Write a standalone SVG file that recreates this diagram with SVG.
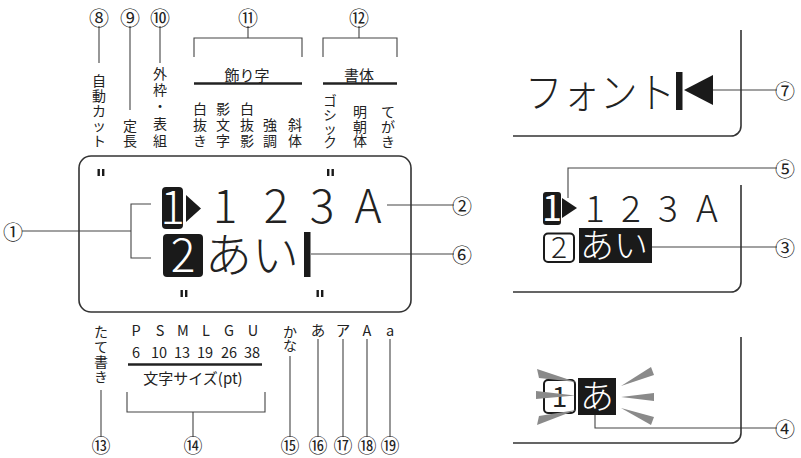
<svg xmlns="http://www.w3.org/2000/svg" width="801" height="458" viewBox="0 0 801 458">
<style>
text{font-family:"Noto Sans CJK JP","Noto Sans",sans-serif;fill:#222}
.c{font-size:20px;text-anchor:middle;dominant-baseline:central}
.cb{font-size:19px;text-anchor:middle;dominant-baseline:central}
.v{font-size:14px;text-anchor:middle;dominant-baseline:central}
.vs{font-size:13.5px;text-anchor:middle;dominant-baseline:central}
.lb{font-size:15px;text-anchor:middle}
.big{font-size:46px;font-weight:300;text-anchor:middle}
.mid{font-size:37px;font-weight:300;text-anchor:middle}
.w{fill:#fff}
.ln{fill:none;stroke:#444;stroke-width:1.1}
.frame{fill:none;stroke:#333;stroke-width:1.6}
.ul{stroke:#222;stroke-width:2.6}
.ray{fill:#8a8a8a}
.blk{fill:#1a1a1a}
</style>
<rect width="801" height="458" fill="#fff"/>

<g id="connectors">
  <path class="ln" d="M99 26V63M130 26V110M160 26V63"/>
  <path class="ln" d="M248 26V38M194 57V38H302V57"/>
  <path class="ln" d="M359 26V38M323 57V38H397V57"/>
  <path class="ln" d="M22 231H131M151 204H131V258H151"/>
  <path class="ln" d="M387 205H454"/>
  <path class="ln" d="M311 254H454"/>
  <path class="ln" d="M101 390V437"/>
  <path class="ln" d="M127 392V412H265V392M193 412V437"/>
  <path class="ln" d="M290 356V437M318 339V437M343 339V437M367 339V437M390 339V437"/>
  <path class="ln" d="M713 90H777"/>
  <path class="ln" d="M777 168H568V198"/>
  <path class="ln" d="M652 247H777"/>
  <path class="ln" d="M595 415V428H777"/>
</g>

<g id="main-display">
  <rect class="frame" x="79" y="156" width="332" height="156" rx="12"/>
  <g class="blk">
    <rect x="97.5" y="169" width="2.4" height="7"/><rect x="102" y="169" width="2.4" height="7"/>
    <rect x="327" y="169" width="2.4" height="7"/><rect x="331.5" y="169" width="2.4" height="7"/>
    <rect x="180.5" y="290" width="2.4" height="7"/><rect x="185" y="290" width="2.4" height="7"/>
    <rect x="316.5" y="290" width="2.4" height="7"/><rect x="321" y="290" width="2.4" height="7"/>
  </g>
  <rect class="blk" x="162" y="187" width="21" height="42" rx="4"/>
  <text class="big w" x="172.5" y="224">1</text>
  <polygon class="blk" points="186,195 201,208.5 186,222"/>
  <text class="big" x="225" y="223">1</text>
  <text class="big" x="276" y="223">2</text>
  <text class="big" x="322" y="223">3</text>
  <text class="big" x="368" y="223">A</text>
  <rect class="blk" x="163" y="234" width="40" height="43" rx="4"/>
  <text class="big w" x="183" y="272">2</text>
  <text x="205" y="272" style="font-size:47px;font-weight:300">あい</text>
  <rect class="blk" x="304" y="232" width="6.5" height="45"/>
</g>

<g id="top-labels">
  <text class="c" x="99" y="17">⑧</text>
  <text class="c" x="130" y="17">⑨</text>
  <text class="c" x="160" y="17">⑩</text>
  <text class="c" x="248" y="17">⑪</text>
  <text class="c" x="359" y="17">⑫</text>
  <text class="v" x="99" y="80">自</text><text class="v" x="99" y="95">動</text><text class="v" x="99" y="110">カ</text><text class="v" x="99" y="125">ッ</text><text class="v" x="99" y="140">ト</text>
  <text class="v" x="130" y="125">定</text><text class="v" x="130" y="140">長</text>
  <text class="v" x="160" y="73">外</text><text class="v" x="160" y="89">枠</text><text class="v" x="160" y="105">・</text><text class="v" x="160" y="123">表</text><text class="v" x="160" y="140">組</text>
  <text class="v" x="200" y="108">白</text><text class="v" x="200" y="124">抜</text><text class="v" x="200" y="140">き</text>
  <text class="v" x="223" y="108">影</text><text class="v" x="223" y="124">文</text><text class="v" x="223" y="140">字</text>
  <text class="v" x="247" y="108">白</text><text class="v" x="247" y="124">抜</text><text class="v" x="247" y="140">影</text>
  <text class="v" x="270" y="124">強</text><text class="v" x="270" y="140">調</text>
  <text class="v" x="295" y="124">斜</text><text class="v" x="295" y="140">体</text>
  <text class="vs" x="330" y="99.5">ゴ</text><text class="vs" x="330" y="113.5">シ</text><text class="vs" x="330" y="127.5">ッ</text><text class="vs" x="330" y="141">ク</text>
  <text class="v" x="360" y="111">明</text><text class="v" x="360" y="125.5">朝</text><text class="v" x="360" y="140">体</text>
  <text class="v" x="388" y="111">て</text><text class="v" x="388" y="126">が</text><text class="v" x="388" y="141">き</text>
  <text class="lb" x="247" y="81">飾り字</text>
  <text class="lb" x="359" y="81">書体</text>
  <line class="ul" x1="194" y1="83.5" x2="302" y2="83.5"/>
  <line class="ul" x1="323" y1="83.5" x2="397" y2="83.5"/>
</g>

<g id="bottom-labels">
  <text class="v" x="101" y="331">た</text><text class="v" x="101" y="346">て</text><text class="v" x="101" y="361">書</text><text class="v" x="101" y="376">き</text>
  <g style="font-size:14.5px;text-anchor:middle">
    <text x="136" y="336">P</text><text x="160" y="336">S</text><text x="183" y="336">M</text><text x="206" y="336">L</text><text x="229" y="336">G</text><text x="253" y="336">U</text>
    <text x="136" y="358">6</text><text x="159" y="358">10</text><text x="182" y="358">13</text><text x="205" y="358">19</text><text x="229" y="358">26</text><text x="252" y="358">38</text>
    <text x="318" y="336">あ</text><text x="343" y="336">ア</text><text x="367" y="336">A</text><text x="390" y="336">a</text>
  </g>
  <line class="ul" x1="128" y1="364.5" x2="262" y2="364.5"/>
  <text class="lb" x="193" y="384">文字サイズ(pt)</text>
  <text class="v" x="290" y="331">か</text><text class="v" x="290" y="345">な</text>
  <text class="cb" x="101" y="444">⑬</text>
  <text class="cb" x="193" y="444">⑭</text>
  <text class="cb" x="290" y="444">⑮</text>
  <text class="cb" x="318" y="444">⑯</text>
  <text class="cb" x="343" y="444">⑰</text>
  <text class="cb" x="367" y="444">⑱</text>
  <text class="cb" x="390" y="444">⑲</text>
</g>

<g id="side-labels">
  <text class="c" x="13" y="231">①</text>
  <text class="c" x="462" y="205">②</text>
  <text class="c" x="462" y="254">⑥</text>
  <text class="c" x="785" y="90">⑦</text>
  <text class="c" x="785" y="168">⑤</text>
  <text class="c" x="785" y="247">③</text>
  <text class="c" x="785" y="428">④</text>
</g>

<g id="panel-font">
  <path class="frame" d="M741 30V126A10 10 0 0 1 731 136H513"/>
  <text x="525" y="108" style="font-size:42px;font-weight:300" textLength="150" lengthAdjust="spacingAndGlyphs">フォント</text>
  <rect class="blk" x="676" y="72" width="6.5" height="38"/>
  <polygon class="blk" points="684,90 713,75 713,105"/>
</g>

<g id="panel-highlight">
  <path class="frame" d="M741 185V282A10 10 0 0 1 731 292H513"/>
  <rect class="blk" x="543" y="192" width="18" height="33" rx="3"/>
  <text class="w" x="552" y="221" style="font-size:36px;text-anchor:middle">1</text>
  <polygon class="blk" points="562,198 577,208 562,218"/>
  <text class="mid" x="595" y="222">1</text>
  <text class="mid" x="631" y="222">2</text>
  <text class="mid" x="668" y="222">3</text>
  <text class="mid" x="707" y="222">A</text>
  <rect x="544" y="233.5" width="30" height="28.5" rx="4" fill="#fff" stroke="#1a1a1a" stroke-width="2"/>
  <text x="559" y="258" style="font-size:30px;font-weight:300;text-anchor:middle">2</text>
  <rect class="blk" x="579" y="228" width="73" height="35"/>
  <text class="w" x="580" y="258" style="font-size:34px;font-weight:300">あい</text>
</g>

<g id="panel-blink">
  <path class="frame" d="M741 337V433A10 10 0 0 1 731 443H513"/>
  <rect x="544" y="380" width="31" height="33" rx="4" fill="#fff" stroke="#1a1a1a" stroke-width="2"/>
  <text x="559.5" y="407" style="font-size:28px;text-anchor:middle">1</text>
  <rect class="blk" x="578" y="378" width="38" height="37"/>
  <text class="w" x="580" y="409" style="font-size:34px;font-weight:300">あ</text>
  <polygon class="ray" points="537,369 539,378 576,382"/>
  <polygon class="ray" points="536,391 536,399 575,395.5"/>
  <polygon class="ray" points="539,416 537,425 576,410"/>
  <polygon class="ray" points="651,367 654,375 621,386"/>
  <polygon class="ray" points="654,393 654,401 621,397"/>
  <polygon class="ray" points="654,417 651,425 621,408"/>
</g>
</svg>
